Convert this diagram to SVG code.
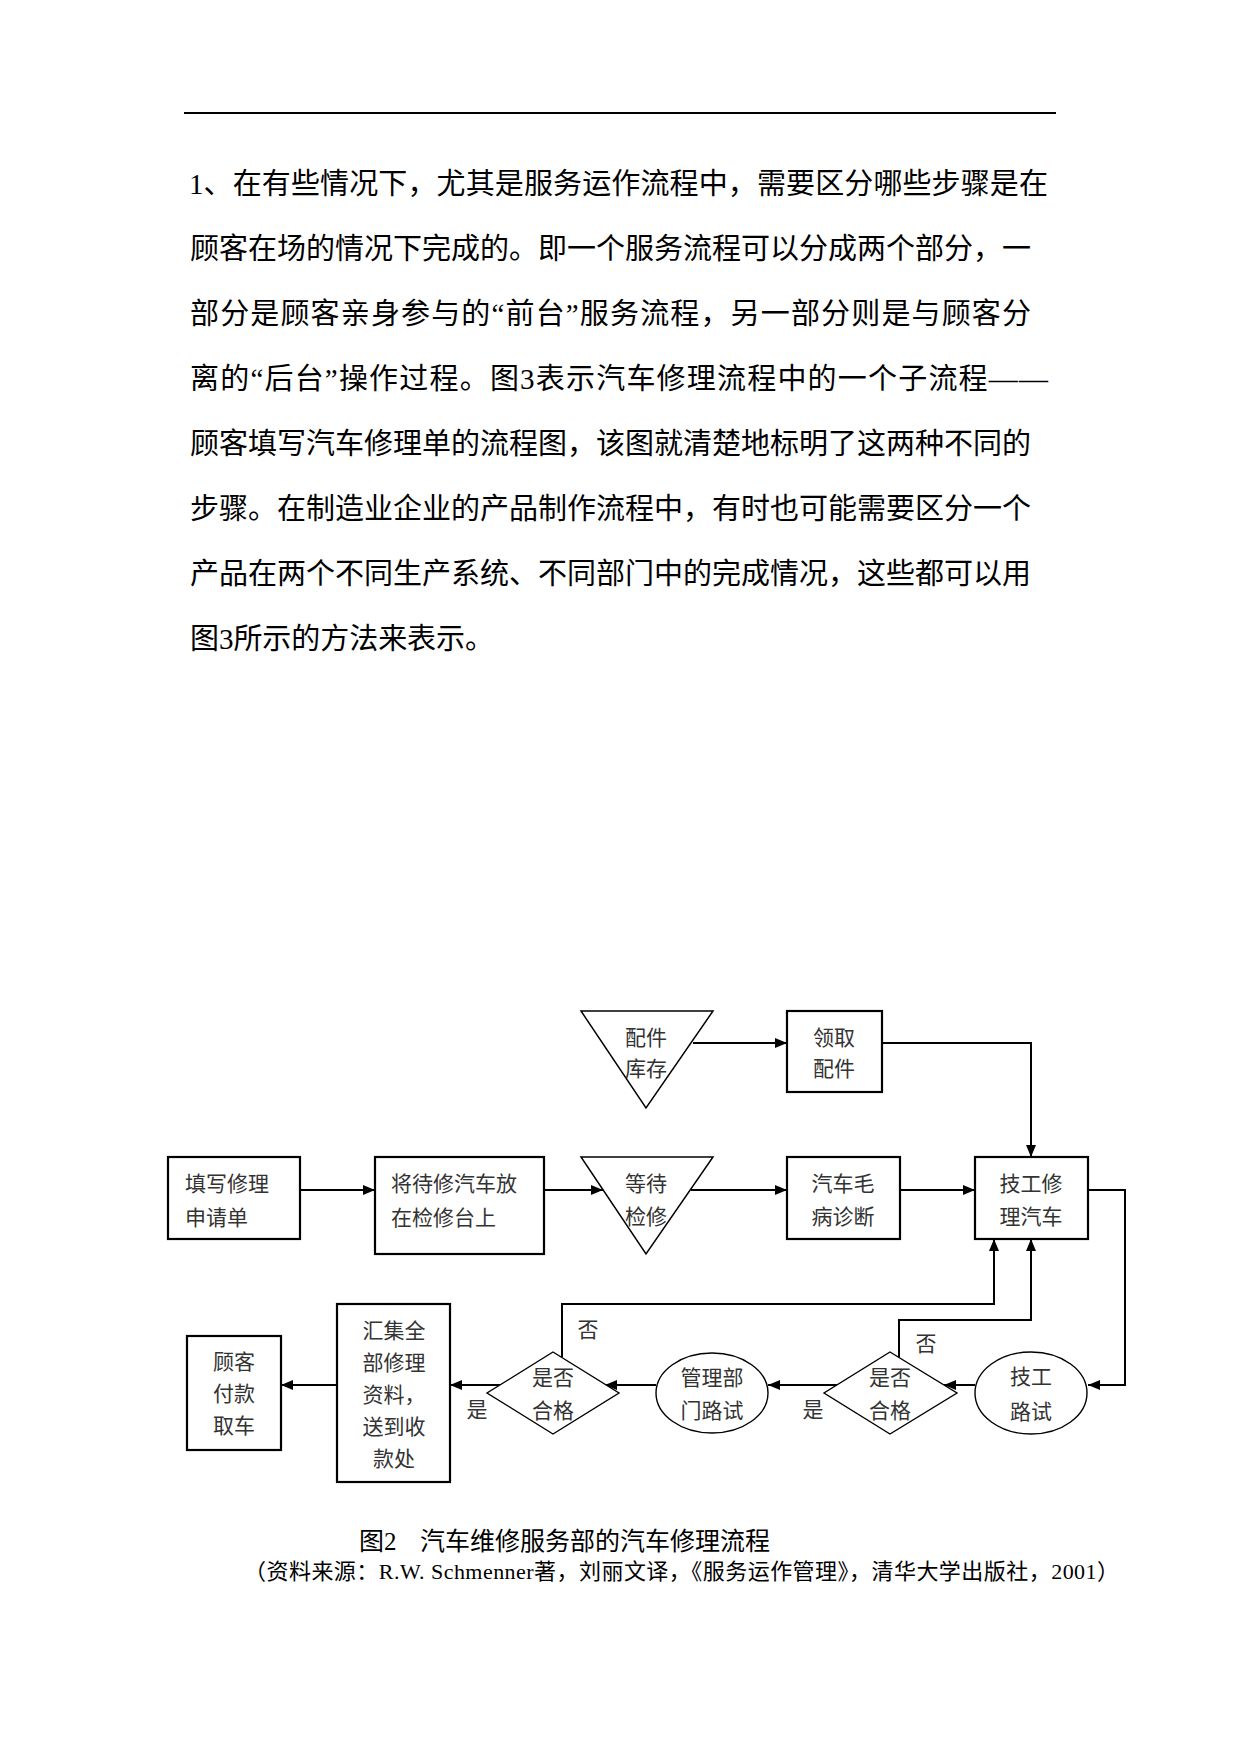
<svg xmlns="http://www.w3.org/2000/svg" width="1241" height="1754" viewBox="0 0 1241 1754">
<style>
.para{font-family:"Liberation Serif","Noto Sans CJK SC",serif;font-size:29px;fill:#000}
.lbl{font-family:"Liberation Serif","Noto Sans CJK SC",serif;font-size:21px;fill:#333}
.mid{text-anchor:middle}
.box{fill:#fff;stroke:#000;stroke-width:2.2}
.thin{fill:#fff;stroke:#000;stroke-width:1.4}
.tri{fill:#fff;stroke:#000;stroke-width:1.5}
.conn{fill:none;stroke:#000;stroke-width:2}
.cap1{font-family:"Liberation Serif","Noto Sans CJK SC",serif;font-size:25px;fill:#000}
.cap2{font-family:"Liberation Serif","Noto Sans CJK SC",serif;font-size:22px;fill:#000}
</style>
<defs>
<marker id="ah" markerUnits="userSpaceOnUse" markerWidth="12" markerHeight="10" refX="12" refY="5" orient="auto">
<path d="M0,0 L12,5 L0,10 z" fill="#000"/>
</marker>
</defs>
<rect width="1241" height="1754" fill="#fff"/>
<line x1="184" y1="113" x2="1056" y2="113" stroke="#000" stroke-width="2.2"/>
<g id="paragraph">
<text class="para" x="189" y="194" textLength="859" lengthAdjust="spacing">1、在有些情况下，尤其是服务运作流程中，需要区分哪些步骤是在</text>
<text class="para" x="190" y="259" textLength="841" lengthAdjust="spacing">顾客在场的情况下完成的。即一个服务流程可以分成两个部分，一</text>
<text class="para" x="190" y="324" textLength="841" lengthAdjust="spacing">部分是顾客亲身参与的“前台”服务流程，另一部分则是与顾客分</text>
<text class="para" x="190" y="389" textLength="858" lengthAdjust="spacing">离的“后台”操作过程。图3表示汽车修理流程中的一个子流程——</text>
<text class="para" x="190" y="454" textLength="841" lengthAdjust="spacing">顾客填写汽车修理单的流程图，该图就清楚地标明了这两种不同的</text>
<text class="para" x="190" y="519" textLength="841" lengthAdjust="spacing">步骤。在制造业企业的产品制作流程中，有时也可能需要区分一个</text>
<text class="para" x="190" y="584" textLength="841" lengthAdjust="spacing">产品在两个不同生产系统、不同部门中的完成情况，这些都可以用</text>
<text class="para" x="190" y="649" textLength="304" lengthAdjust="spacing">图3所示的方法来表示。</text>
</g>
<g id="connectors">
<line class="conn" x1="693" y1="1043" x2="787" y2="1043" marker-end="url(#ah)"/>
<path class="conn" d="M882,1043 H1031 V1157" marker-end="url(#ah)"/>
<line class="conn" x1="300" y1="1190" x2="375" y2="1190" marker-end="url(#ah)"/>
<line class="conn" x1="544" y1="1190" x2="603" y2="1190" marker-end="url(#ah)"/>
<line class="conn" x1="691" y1="1190" x2="787" y2="1190" marker-end="url(#ah)"/>
<line class="conn" x1="900" y1="1190" x2="975" y2="1190" marker-end="url(#ah)"/>
<path class="conn" d="M1088,1190 H1125 V1385 H1088" marker-end="url(#ah)"/>
<line class="conn" x1="975" y1="1385" x2="944" y2="1385" marker-end="url(#ah)"/>
<line class="conn" x1="837" y1="1385" x2="768" y2="1385" marker-end="url(#ah)"/>
<line class="conn" x1="656" y1="1385" x2="605" y2="1385" marker-end="url(#ah)"/>
<line class="conn" x1="500" y1="1385" x2="450" y2="1385" marker-end="url(#ah)"/>
<line class="conn" x1="337" y1="1385" x2="281" y2="1385" marker-end="url(#ah)"/>
<path class="conn" d="M899,1357 V1320 H1031 V1239" marker-end="url(#ah)"/>
<path class="conn" d="M562,1357 V1304 H994 V1239" marker-end="url(#ah)"/>
<text class="lbl mid" x="926" y="1351">否</text>
<text class="lbl mid" x="588" y="1337">否</text>
<text class="lbl mid" x="813" y="1417">是</text>
<text class="lbl mid" x="477" y="1417">是</text>
</g>
<g id="n_parts_stock">
<polygon class="tri" points="581,1011 713,1011 646,1108"/>
<text class="lbl mid" x="646" y="1045">配件</text>
<text class="lbl mid" x="646" y="1076">库存</text>
</g>
<g id="n_get_parts">
<rect class="box" x="787" y="1011" width="95" height="81"/>
<text class="lbl mid" x="834" y="1045">领取</text>
<text class="lbl mid" x="834" y="1076">配件</text>
</g>
<g id="n_fill_form">
<rect class="box" x="168" y="1157" width="132" height="82"/>
<text class="lbl" x="185" y="1191">填写修理</text>
<text class="lbl" x="185" y="1225">申请单</text>
</g>
<g id="n_place_car">
<rect class="box" x="375" y="1157" width="169" height="97"/>
<text class="lbl" x="391" y="1191">将待修汽车放</text>
<text class="lbl" x="391" y="1225">在检修台上</text>
</g>
<g id="n_wait">
<polygon class="tri" points="581,1157 713,1157 646,1254"/>
<text class="lbl mid" x="646" y="1191">等待</text>
<text class="lbl mid" x="646" y="1224">检修</text>
</g>
<g id="n_diagnose">
<rect class="box" x="787" y="1157" width="113" height="82"/>
<text class="lbl mid" x="843" y="1191">汽车毛</text>
<text class="lbl mid" x="843" y="1224">病诊断</text>
</g>
<g id="n_repair">
<rect class="box" x="975" y="1157" width="113" height="82"/>
<text class="lbl mid" x="1031" y="1191">技工修</text>
<text class="lbl mid" x="1031" y="1224">理汽车</text>
</g>
<g id="n_tech_test">
<ellipse class="thin" cx="1031" cy="1393" rx="56" ry="41"/>
<text class="lbl mid" x="1031" y="1384">技工</text>
<text class="lbl mid" x="1031" y="1419">路试</text>
</g>
<g id="n_check_right">
<polygon class="thin" points="890,1352 957,1393 890,1434 824,1393"/>
<text class="lbl mid" x="890" y="1385">是否</text>
<text class="lbl mid" x="890" y="1418">合格</text>
</g>
<g id="n_mgmt_test">
<ellipse class="thin" cx="712" cy="1393" rx="56" ry="40"/>
<text class="lbl mid" x="712" y="1385">管理部</text>
<text class="lbl mid" x="712" y="1418">门路试</text>
</g>
<g id="n_check_left">
<polygon class="thin" points="553,1352 619,1393 553,1434 487,1393"/>
<text class="lbl mid" x="553" y="1385">是否</text>
<text class="lbl mid" x="553" y="1418">合格</text>
</g>
<g id="n_collect">
<rect class="box" x="337" y="1304" width="113" height="178"/>
<text class="lbl mid" x="394" y="1338">汇集全</text>
<text class="lbl mid" x="394" y="1370">部修理</text>
<text class="lbl mid" x="394" y="1402">资料，</text>
<text class="lbl mid" x="394" y="1434">送到收</text>
<text class="lbl mid" x="394" y="1466">款处</text>
</g>
<g id="n_pay">
<rect class="box" x="187" y="1336" width="94" height="114"/>
<text class="lbl mid" x="234" y="1369">顾客</text>
<text class="lbl mid" x="234" y="1401">付款</text>
<text class="lbl mid" x="234" y="1433">取车</text>
</g>
<g id="caption">
<text class="cap1" x="359" y="1550">图2</text>
<text class="cap1" x="420" y="1550" textLength="350" lengthAdjust="spacing">汽车维修服务部的汽车修理流程</text>
<text class="cap2" x="244" y="1579" textLength="875" lengthAdjust="spacing">（资料来源：R.W. Schmenner著，刘丽文译，《服务运作管理》，清华大学出版社，2001）</text>
</g>
</svg>
